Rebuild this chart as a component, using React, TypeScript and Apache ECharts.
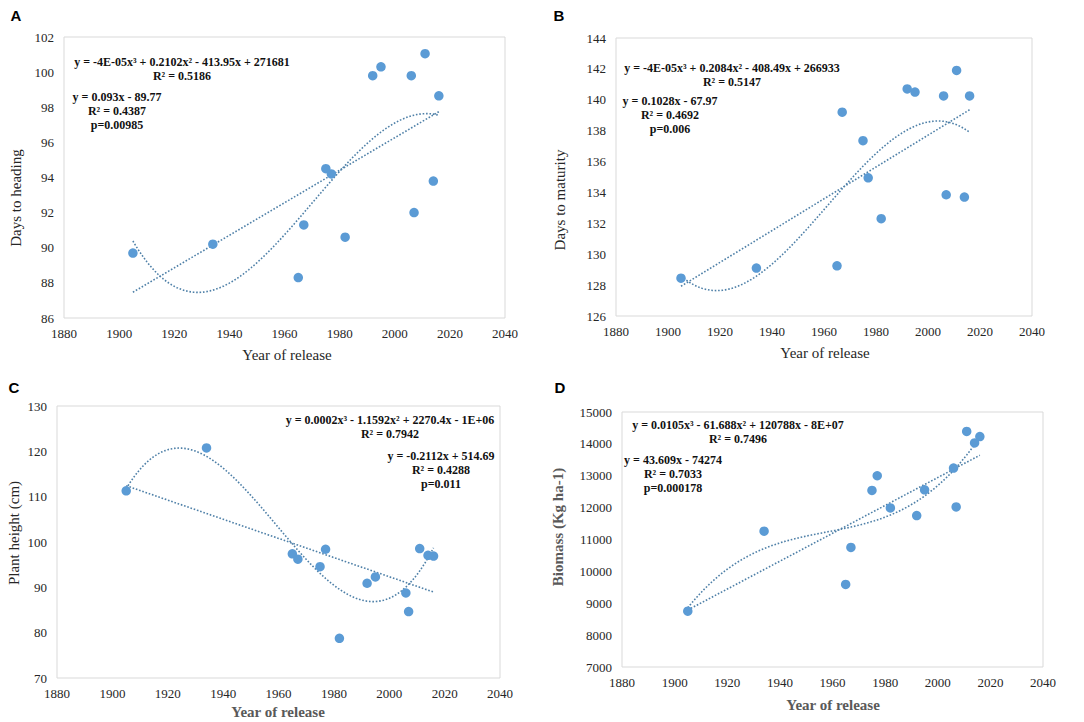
import React, { useEffect, useRef } from "react";
import * as echarts from "echarts";

// ---- Data ----
const years = [1905, 1934, 1965, 1967, 1975, 1977, 1982, 1992, 1995, 2006, 2007, 2011, 2014, 2016];
const headingDays = [89.7, 90.2, 88.3, 91.3, 94.5, 94.2, 90.6, 99.8, 100.3, 99.8, 92.0, 101.05, 93.8, 98.65];
const maturityDays = [128.45, 129.1, 129.25, 139.2, 137.35, 134.95, 132.3, 140.7, 140.5, 140.25, 133.85, 141.9, 133.7, 140.25];
const plantHeight = [111.3, 120.75, 97.4, 96.2, 94.55, 98.4, 78.75, 90.9, 92.3, 88.75, 84.65, 98.55, 97.05, 96.9];
const biomass = [8750, 11260, 9590, 10750, 12540, 13000, 11990, 11750, 12560, 13240, 12020, 14390, 14030, 14230];

const panelLabels = ["A", "B", "C", "D"];
const yTitles = ["Days to heading", "Days to maturity", "Plant height (cm)", "Biomass (Kg ha-1)"];
const xTitle = "Year of release";
const cubicEq = [
  "y = -4E-05x³ + 0.2102x² - 413.95x + 271681",
  "y = -4E-05x³ + 0.2084x² - 408.49x + 266933",
  "y = 0.0002x³ - 1.1592x² + 2270.4x - 1E+06",
  "y = 0.0105x³ - 61.688x² + 120788x - 8E+07",
];
const cubicR2 = ["R² = 0.5186", "R² = 0.5147", "R² = 0.7942", "R² = 0.7496"];
const linearEq = ["y = 0.093x - 89.77", "y = 0.1028x - 67.97", "y = -0.2112x + 514.69", "y = 43.609x - 74274"];
const linearR2 = ["R² = 0.4387", "R² = 0.4692", "R² = 0.4288", "R² = 0.7033"];
const pValues = ["p=0.00985", "p=0.006", "p=0.011", "p=0.000178"];

// least-squares polynomial trendline (as the spreadsheet trendline)
function polyfit(xs: number[], ys: number[], deg: number) {
  const m = xs.reduce((a, b) => a + b, 0) / xs.length;
  const s = 50;
  const n = deg + 1;
  const A: number[][] = [];
  const b: number[] = [];
  for (let i = 0; i < n; i++) {
    A.push(new Array(n).fill(0));
    b.push(0);
  }
  xs.forEach((x, k) => {
    const t = (x - m) / s;
    for (let i = 0; i < n; i++) {
      for (let j = 0; j < n; j++) A[i][j] += Math.pow(t, i + j);
      b[i] += Math.pow(t, i) * ys[k];
    }
  });
  for (let c = 0; c < n; c++) {
    let p = c;
    for (let r = c + 1; r < n; r++) if (Math.abs(A[r][c]) > Math.abs(A[p][c])) p = r;
    [A[c], A[p]] = [A[p], A[c]];
    [b[c], b[p]] = [b[p], b[c]];
    for (let r = c + 1; r < n; r++) {
      const f = A[r][c] / A[c][c];
      for (let j = c; j < n; j++) A[r][j] -= f * A[c][j];
      b[r] -= f * b[c];
    }
  }
  const coef = new Array(n).fill(0);
  for (let i = n - 1; i >= 0; i--) {
    let v = b[i];
    for (let j = i + 1; j < n; j++) v -= A[i][j] * coef[j];
    coef[i] = v / A[i][i];
  }
  return (x: number) => {
    const t = (x - m) / s;
    let v = 0;
    for (let i = 0; i < n; i++) v += coef[i] * Math.pow(t, i);
    return v;
  };
}

function trend(xs: number[], ys: number[], deg: number) {
  const f = polyfit(xs, ys, deg);
  const lo = Math.min(...xs);
  const hi = Math.max(...xs);
  const out: number[][] = [];
  for (let x = lo; x <= hi + 1e-9; x += 1) out.push([x, f(x)]);
  return out;
}

const panelValues = [headingDays, maturityDays, plantHeight, biomass];
const yRanges = [
  { min: 86, max: 102, interval: 2 },
  { min: 126, max: 144, interval: 2 },
  { min: 70, max: 130, interval: 10 },
  { min: 7000, max: 15000, interval: 1000 },
];

// layout (pixels)
const grids = [
  { left: 64, top: 37, width: 441, height: 281 },
  { left: 616, top: 38, width: 416, height: 278 },
  { left: 57, top: 406, width: 443, height: 272 },
  { left: 622, top: 412, width: 421, height: 255 },
];
const labelPos = [[16, 15], [559, 15], [14, 387], [560, 387]];
const yTitlePos = [[16, 198], [560, 200], [14, 533], [558, 527]];
const xTitlePos = [[287, 355], [825, 353], [278, 712], [833, 705]];
const xTitleBold = [false, false, true, true];
const yTitleBold = [false, false, false, true];
const cubicPos = [[182, 62], [732, 68], [390, 420], [738, 425]];
const linearPos = [[117, 97], [670, 101], [441, 456], [673, 460]];

const SERIF_NAME = "Liberation Serif";
const SERIF = "'Liberation Serif', serif";
const DOT = "#5b9bd5";
const TREND = "#4f80a8";

export default function App() {
  const ref = useRef<HTMLDivElement>(null);
  useEffect(() => {
    if (!ref.current) return;
    const chart = echarts.init(ref.current, undefined, { renderer: "svg" });

    const xAxis: any[] = [];
    const yAxis: any[] = [];
    const series: any[] = [];
    const graphic: any[] = [];

    grids.forEach((g, i) => {
      xAxis.push({
        type: "value",
        gridIndex: i,
        min: 1880,
        max: 2040,
        interval: 20,
        axisLine: { show: false },
        axisTick: { show: false },
        splitLine: { show: false },
        axisLabel: {
          fontFamily: SERIF_NAME,
          fontSize: 13,
          color: "#262626",
          margin: 9,
          formatter: (v: number) => String(v),
        },
      });
      yAxis.push({
        type: "value",
        gridIndex: i,
        min: yRanges[i].min,
        max: yRanges[i].max,
        interval: yRanges[i].interval,
        axisLine: { show: false },
        axisTick: { show: false },
        splitLine: { show: false },
        axisLabel: {
          fontFamily: SERIF_NAME,
          fontSize: 13,
          color: "#262626",
          margin: 10,
          formatter: (v: number) => String(v),
        },
      });
      const ys = panelValues[i];
      series.push({
        type: "line",
        xAxisIndex: i,
        yAxisIndex: i,
        data: trend(years, ys, 1),
        showSymbol: false,
        smooth: false,
        lineStyle: { color: TREND, width: 1.6, type: [1.6, 1.8] },
        silent: true,
        z: 1,
      });
      series.push({
        type: "line",
        xAxisIndex: i,
        yAxisIndex: i,
        data: trend(years, ys, 3),
        showSymbol: false,
        smooth: false,
        lineStyle: { color: TREND, width: 1.6, type: [1.6, 1.8] },
        silent: true,
        z: 1,
      });
      series.push({
        type: "scatter",
        xAxisIndex: i,
        yAxisIndex: i,
        data: years.map((x, k) => [x, ys[k]]),
        symbolSize: 9.5,
        itemStyle: { color: DOT, opacity: 1 },
        z: 3,
      });

      graphic.push({
        type: "text",
        x: labelPos[i][0],
        y: labelPos[i][1],
        style: {
          text: panelLabels[i],
          font: "bold 15px 'Liberation Sans', Arial, sans-serif",
          fill: "#000",
          align: "center",
          verticalAlign: "middle",
        },
      });
      graphic.push({
        type: "text",
        x: yTitlePos[i][0],
        y: yTitlePos[i][1],
        rotation: Math.PI / 2,
        style: {
          text: yTitles[i],
          font: `${yTitleBold[i] ? "bold " : ""}15px ${SERIF}`,
          fill: yTitleBold[i] ? "#595959" : "#262626",
          align: "center",
          verticalAlign: "middle",
        },
      });
      graphic.push({
        type: "text",
        x: xTitlePos[i][0],
        y: xTitlePos[i][1],
        style: {
          text: xTitle,
          font: `${xTitleBold[i] ? "bold " : ""}15px ${SERIF}`,
          fill: xTitleBold[i] ? "#595959" : "#262626",
          align: "center",
          verticalAlign: "middle",
        },
      });
      const eqLines = [
        [cubicEq[i], cubicPos[i][0], cubicPos[i][1]],
        [cubicR2[i], cubicPos[i][0], cubicPos[i][1] + 14],
        [linearEq[i], linearPos[i][0], linearPos[i][1]],
        [linearR2[i], linearPos[i][0], linearPos[i][1] + 14],
        [pValues[i], linearPos[i][0], linearPos[i][1] + 28],
      ];
      eqLines.forEach(([t, x, y]) => {
        graphic.push({
          type: "text",
          x,
          y,
          z: 10,
          style: {
            text: t,
            font: `bold 12px ${SERIF}`,
            fill: "#111",
            align: "center",
            verticalAlign: "middle",
          },
        });
      });
    });

    chart.setOption({
      animation: false,
      backgroundColor: "#fff",
      textStyle: { fontFamily: SERIF_NAME },
      grid: grids.map((g) => ({
        ...g,
        show: true,
        borderColor: "#d9d9d9",
        borderWidth: 1,
        backgroundColor: "transparent",
        containLabel: false,
      })),
      xAxis,
      yAxis,
      series,
      graphic,
    });
    return () => chart.dispose();
  }, []);

  return (
    <div
      ref={ref}
      style={{ position: "absolute", left: 0, top: 0, width: 1084, height: 722, background: "#fff" }}
    />
  );
}
